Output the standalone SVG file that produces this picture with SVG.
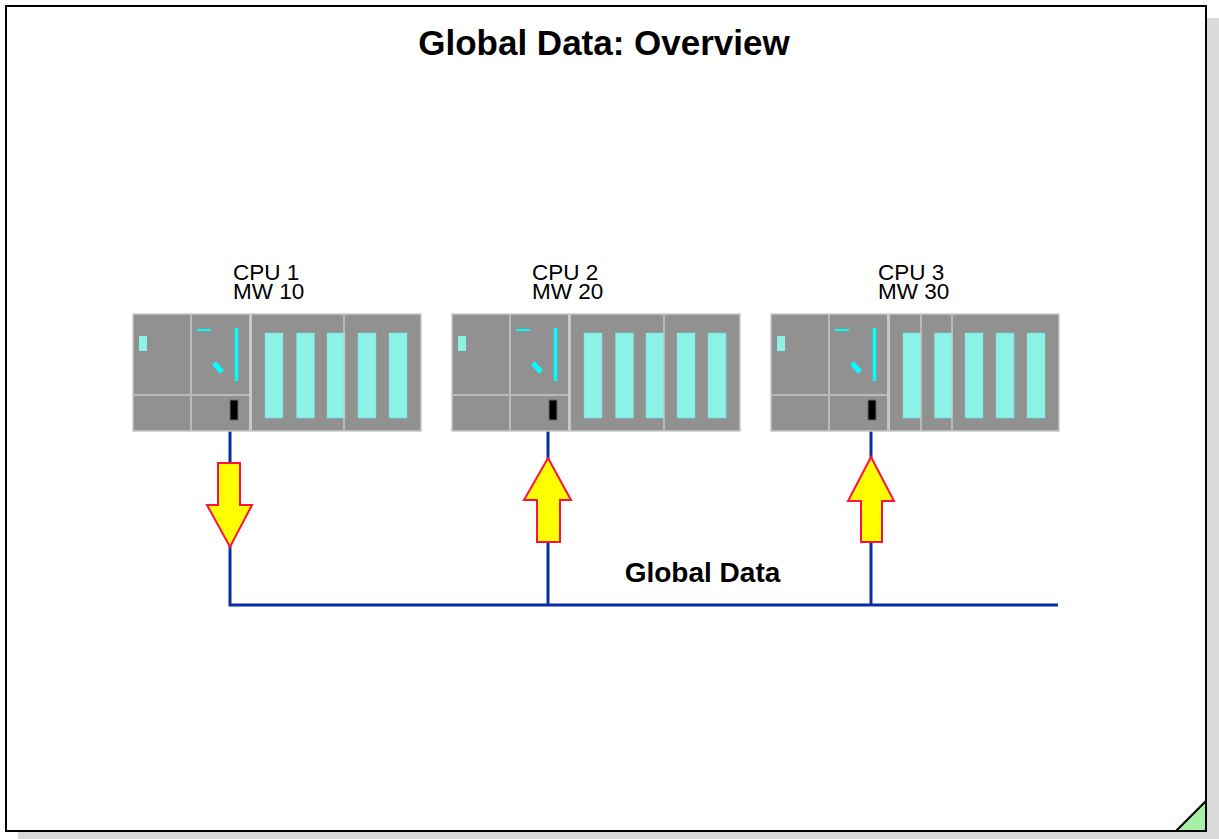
<svg xmlns="http://www.w3.org/2000/svg" width="1219" height="839" viewBox="0 0 1219 839">
  <style>
    .title { font-family: "Liberation Sans", Arial, sans-serif; font-weight: bold; fill: #000; }
    .label { font-family: "Liberation Sans", Arial, sans-serif; font-size: 22.5px; fill: #000; }
    .body { fill: #919191; stroke: #c8c8c8; stroke-width: 1.5; }
    .sep { stroke: #c8c8c8; stroke-width: 1.5; }
    .sepw { fill: #c8c8c8; }
    .slot { fill: #8cf2e6; stroke: #7fd8cc; stroke-width: 0.6; }
    .led { fill: #8cf2e6; }
    .cyan { stroke: #00ffff; fill: none; }
    .port { fill: #000; stroke: #6a6a6a; stroke-width: 1; }
    .bus { stroke: #0a2ea0; stroke-width: 3; fill: none; }
    .arrow { fill: #ffff00; stroke: #ff1040; stroke-width: 2; stroke-linejoin: miter; }
  </style>
  <defs>
    <!-- common parts of a rack: body, CPU front, divider, five I/O slots -->
    <g id="rack">
      <rect class="body" x="0" y="0" width="288" height="117"/>
      <line class="sep" x1="58" y1="0" x2="58" y2="117"/>
      <rect class="sepw" x="116" y="0" width="3" height="117"/>
      <line class="sep" x1="1" y1="81" x2="57" y2="81"/>
      <line class="sep" x1="59" y1="81" x2="116" y2="81"/>
      <rect class="led" x="6" y="22" width="8" height="15"/>
      <line class="cyan" x1="64" y1="16" x2="78" y2="16" stroke-width="2"/>
      <line class="cyan" x1="103.5" y1="14" x2="103.5" y2="67" stroke-width="3.5"/>
      <line class="cyan" x1="81" y1="49" x2="89" y2="58" stroke-width="5"/>
      <rect class="port" x="97" y="86" width="8" height="20"/>
      <rect class="slot" x="132" y="19" width="18" height="85"/>
      <rect class="slot" x="163.5" y="19" width="18" height="85"/>
      <rect class="slot" x="194" y="19" width="18" height="85"/>
      <rect class="slot" x="225" y="19" width="18" height="85"/>
      <rect class="slot" x="256" y="19" width="18" height="85"/>
    </g>
  </defs>

  <!-- page with drop shadow -->
  <rect x="18" y="18" width="1201" height="821" fill="#d9d9d9"/>
  <rect x="6" y="6" width="1200" height="825" fill="#ffffff" stroke="#000" stroke-width="2"/>
  <polygon points="1176,831 1206,801 1206,831" fill="#a6f0a6" stroke="#000" stroke-width="2"/>

  <text class="title" x="604" y="55" font-size="35" text-anchor="middle">Global Data: Overview</text>

  <!-- bus connectors -->
  <g id="connectors">
    <polyline class="bus" points="230,428 230,605 1058,605"/>
    <line class="bus" x1="548" y1="428" x2="548" y2="605"/>
    <line class="bus" x1="871" y1="428" x2="871" y2="605"/>
  </g>

  <g id="cpu1">
    <text class="label" x="233" y="280">CPU 1</text>
    <text class="label" x="233" y="299">MW 10</text>
    <use href="#rack" x="133" y="314"/>
    <line class="sep" x1="344" y1="315" x2="344" y2="431"/>
  </g>

  <g id="cpu2">
    <text class="label" x="532" y="280">CPU 2</text>
    <text class="label" x="532" y="299">MW 20</text>
    <use href="#rack" x="452" y="314"/>
    <line class="sep" x1="664" y1="315" x2="664" y2="431"/>
  </g>

  <g id="cpu3">
    <text class="label" x="878" y="280">CPU 3</text>
    <text class="label" x="878" y="299">MW 30</text>
    <use href="#rack" x="771" y="314"/>
    <line class="sep" x1="921" y1="315" x2="921" y2="431"/>
    <line class="sep" x1="952" y1="315" x2="952" y2="431"/>
  </g>

  <!-- data flow arrows -->
  <g id="arrow-send">
    <polygon class="arrow" points="218,463 240,463 240,505 252,505 230,547 207,505 218,505"/>
  </g>
  <g id="arrow-recv2">
    <polygon class="arrow" points="548,458 571,500 560,500 560,542 537,542 537,500 524,500"/>
  </g>
  <g id="arrow-recv3">
    <polygon class="arrow" points="871,457 894,501 882,501 882,542 861,542 861,501 848,501"/>
  </g>

  <text class="title" x="702.5" y="582" font-size="28" text-anchor="middle">Global Data</text>
</svg>
